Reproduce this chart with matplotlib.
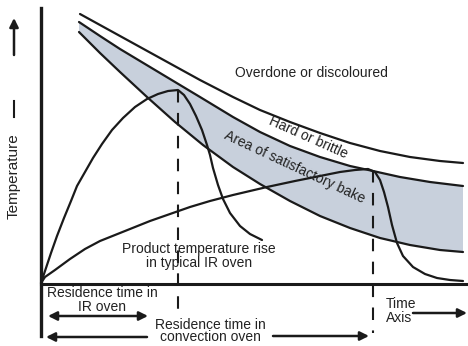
import matplotlib.pyplot as plt
from matplotlib.patches import FancyArrowPatch

# Schematic drawn in pixel-like units: x to the right, y downward.
# Upper limit of the "hard or brittle" band
top_x = [80, 100, 120, 140, 160, 180, 200, 233, 260, 290, 320, 350, 380, 410, 440, 463]
top_y = [14, 25, 36, 47, 58, 69, 80, 97, 110, 122, 133, 143, 151, 157, 161, 163]

# Upper limit of the satisfactory-bake band
mid_x = [79, 100, 120, 140, 160, 180, 200, 233, 260, 290, 320, 350, 373, 400, 430, 463]
mid_y = [22, 36, 49, 61, 73, 85, 97, 117, 132, 146, 157, 166, 171, 177, 182, 186]

# Lower limit of the satisfactory-bake band
low_x = [79, 100, 120, 147, 175, 203, 233, 260, 290, 320, 350, 380, 410, 440, 463]
low_y = [32, 53, 72, 97, 122, 145, 167, 184, 201, 216, 228, 238, 245, 250, 252]

# Product temperature in an IR oven
ir_x = [41, 46, 51, 57, 64, 71, 77, 85, 93, 102, 112, 123, 135, 147, 158, 168, 178,
        184, 190, 196, 202, 207, 210, 213, 218, 223, 230, 240, 250, 262]
ir_y = [283, 268, 253, 236, 218, 201, 186, 172, 158, 144, 130, 118, 107, 99, 94, 91, 90,
        95, 104, 116, 130, 145, 155, 168, 185, 199, 213, 226, 234, 240]

# Product temperature in a convection oven
cv_x = [41, 45, 55, 70, 85, 100, 115, 130, 150, 170, 190, 210, 233, 267, 295, 320, 340,
        355, 368, 375, 380, 384, 388, 392, 397, 403, 413, 425, 437, 450, 463]
cv_y = [283, 277, 270, 259, 249, 241, 235, 229, 221, 214, 207, 201, 195, 187, 181, 176, 172,
        170, 169, 172, 180, 192, 207, 225, 243, 256, 267, 274, 278, 280, 281]

ir_exit = (178, 90, 318)     # x, top y, bottom y of dashed marker
cv_exit = (373, 170, 333)

fig = plt.figure(figsize=(4.68, 3.46), dpi=100)
ax = fig.add_axes([0, 0, 1, 1])
ax.set_xlim(0, 468)
ax.set_ylim(346, 0)
ax.axis('off')

plt.rcParams['font.family'] = ['Liberation Sans', 'DejaVu Sans']

band = list(zip(mid_x, mid_y)) + list(zip(low_x, low_y))[::-1]
ax.fill([p[0] for p in band], [p[1] for p in band], color='#c8d0dc', lw=0, zorder=1)

lw = 1.6
for xs, ys in [(top_x, top_y), (mid_x, mid_y), (low_x, low_y), (ir_x, ir_y), (cv_x, cv_y)]:
    ax.plot(xs, ys, color='#1a1a1a', lw=lw, solid_joinstyle='round', solid_capstyle='round', zorder=3)

# axes
ax.plot([41, 41], [8, 336], color='#1a1a1a', lw=2.4, zorder=4)
ax.plot([41, 466], [284, 284], color='#1a1a1a', lw=2.2, zorder=4)

for x, y0, y1 in [ir_exit, cv_exit]:
    ax.plot([x, x], [y0, y1], color='#1a1a1a', lw=1.5, dashes=(6, 5), zorder=3)

def arrow(x0, y0, x1, y1, style='-|>'):
    ax.add_patch(FancyArrowPatch((x0, y0), (x1, y1), arrowstyle=style, mutation_scale=13,
                                 color='#1a1a1a', lw=1.8, shrinkA=0, shrinkB=0, zorder=4))

arrow(48, 316, 148, 316, style='<|-|>')
arrow(147, 337, 46, 337)
arrow(273, 336, 369, 336)
arrow(413, 313, 467, 313)
arrow(14, 55, 14, 18)
ax.plot([14, 14], [101, 117], color='#1a1a1a', lw=1.5)

fs = 10
tc = '#222222'
ax.text(14, 176, 'Temperature', rotation=90, ha='center', va='center', fontsize=11, color=tc)
ax.text(311, 73, 'Overdone or discoloured', ha='center', va='center', fontsize=fs, color=tc)
ax.text(308, 138, 'Hard or brittle', rotation=-24, ha='center', va='center', fontsize=fs, color=tc,
        rotation_mode='anchor')
ax.text(295, 167, 'Area of satisfactory bake', rotation=-25, ha='center', va='center', fontsize=fs,
        color=tc, rotation_mode='anchor')
ax.text(199, 256, 'Product temperature rise\nin typical IR oven', ha='center', va='center',
        fontsize=fs, color=tc, linespacing=0.95)
ax.text(102, 300, 'Residence time in\nIR oven', ha='center', va='center', fontsize=fs, color=tc,
        linespacing=0.95)
ax.text(210, 331, 'Residence time in\nconvection oven', ha='center', va='center', fontsize=fs,
        color=tc, linespacing=0.9)
ax.text(386, 311, 'Time\nAxis', ha='left', va='center', fontsize=fs, color=tc, linespacing=0.95)

fig.savefig('out.png', dpi=100)
